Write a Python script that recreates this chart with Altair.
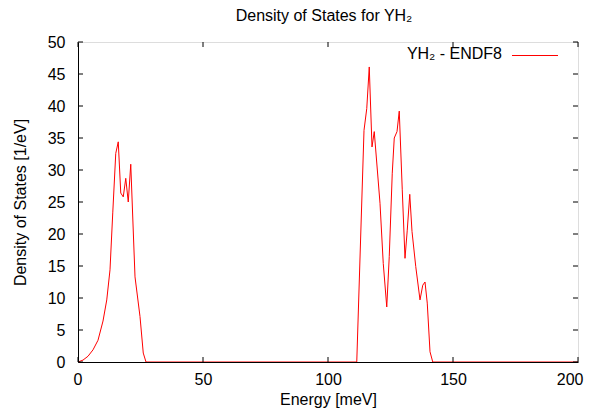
import altair as alt
import pandas as pd

# Density of states for YH2 (ENDF8)
energy = [0.0, 2.0, 4.0, 6.0, 8.0, 10.0, 11.5, 12.8, 13.9, 15.1, 16.1, 17.1, 18.1,
          19.1, 20.1, 21.1, 22.8, 24.8, 26.1, 27.2,
          111.5, 114.4, 115.5, 116.5, 117.6, 118.5, 120.8, 122.1, 123.5, 124.5,
          125.7, 126.5, 127.6, 128.5, 129.7, 130.8, 131.7, 132.7, 133.6, 135.1,
          136.8, 137.9, 138.8, 139.7, 140.8, 141.9, 200.0]
dos = [0.0, 0.3, 0.9, 1.9, 3.4, 6.4, 9.7, 14.4, 23.3, 32.6, 34.4, 26.4, 25.8,
       28.7, 25.0, 30.9, 13.3, 7.1, 1.4, 0.0,
       0.0, 36.2, 39.6, 46.1, 33.6, 36.0, 24.8, 15.4, 8.6, 16.5,
       29.5, 35.0, 36.0, 39.2, 26.9, 16.2, 20.6, 26.2, 20.4, 14.9,
       9.7, 12.0, 12.5, 9.2, 1.6, 0.0, 0.0]

x_ticks = [0, 50, 100, 150, 200]
y_ticks = [0, 5, 10, 15, 20, 25, 30, 35, 40, 45, 50]
legend_label = ["YH\u2082 - ENDF8"]
title_text = "Density of States for YH\u2082"

W, H = 500, 320
TICK = 5
FONT = "Liberation Sans"
RED = "#ff0000"

df = pd.DataFrame({"E": energy, "D": dos})
xs = alt.Scale(domain=[0, 200], nice=False, zero=False)
ys = alt.Scale(domain=[0, 50], nice=False, zero=False)

axis_common = dict(ticks=False, grid=False, domain=True, domainColor="black",
                   domainWidth=1, labelFontSize=16, titleFontSize=16,
                   labelColor="black", titleColor="black",
                   titleFontWeight="normal", labelFont=FONT, titleFont=FONT,
                   labelOverlap=False, zindex=1)
x_axis = alt.Axis(title="Energy [meV]", values=x_ticks, labelPadding=9,
                  titlePadding=4, labelFlush=True, labelFlushOffset=5,
                  **axis_common)
y_axis = alt.Axis(title="Density of States [1/eV]", values=y_ticks,
                  labelPadding=13, titlePadding=19, labelFlush=False,
                  **axis_common)


def xe():
    return alt.X("E:Q", scale=xs, axis=x_axis)


def ye():
    return alt.Y("D:Q", scale=ys, axis=y_axis)


line = alt.Chart(df).mark_line(strokeWidth=1).encode(
    x=xe(), y=ye(), color=alt.value(RED))

xt = pd.DataFrame({"E": x_ticks})
yt = pd.DataFrame({"D": y_ticks})

x_bottom = alt.Chart(xt).mark_rule(strokeWidth=1).encode(
    x=xe(), y=alt.value(H), y2=alt.value(H - TICK), color=alt.value("black"))
x_top = alt.Chart(xt).mark_rule(strokeWidth=1).encode(
    x=xe(), y=alt.value(0), y2=alt.value(TICK), color=alt.value("black"))
y_left = alt.Chart(yt).mark_rule(strokeWidth=1).encode(
    y=ye(), x=alt.value(0), x2=alt.value(TICK), color=alt.value("black"))
y_right = alt.Chart(yt).mark_rule(strokeWidth=1).encode(
    y=ye(), x=alt.value(W), x2=alt.value(W - TICK), color=alt.value("black"))

leg_text = alt.Chart(pd.DataFrame({"label": legend_label})).mark_text(
    align="right", baseline="alphabetic", fontSize=16, font=FONT
).encode(x=alt.value(424), y=alt.value(17), text="label:N",
         color=alt.value("black"))
leg_line = alt.Chart(pd.DataFrame({"sample": legend_label})).mark_rule(
    strokeWidth=1.2
).encode(x=alt.value(434), x2=alt.value(480), y=alt.value(13.5),
         color=alt.value(RED))

chart = alt.layer(line, x_bottom, x_top, y_left, y_right, leg_text, leg_line).properties(
    width=W, height=H,
    title=alt.TitleParams(text=title_text, fontSize=16, fontWeight="normal",
                          font=FONT, color="black", offset=10, dx=-4),
    autosize=alt.AutoSizeParams(type="none"),
    padding={"left": 70, "top": 34, "right": 7, "bottom": 48},
).configure_view(stroke="black", strokeWidth=1).configure(font=FONT)

chart.save("out.html", embed_options={"renderer": "svg", "actions": False})
